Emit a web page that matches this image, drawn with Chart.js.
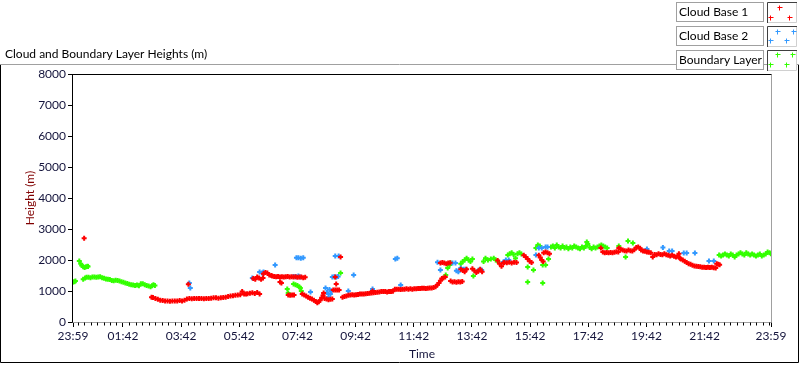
<!DOCTYPE html>
<html>
<head>
<meta charset="utf-8">
<script src="https://cdn.jsdelivr.net/npm/chart.js@4.4.1/dist/chart.umd.min.js"></script>
<style>
  html, body { margin: 0; padding: 0; background: #fff; }
  #wrap { position: relative; width: 800px; height: 365px; }
</style>
</head>
<body>
<div id="wrap"><canvas id="chart" width="800" height="365"></canvas></div>
<script>
// time is minutes after 23:59, height in metres
const xTickValues = [0, 103, 223, 343, 463, 583, 703, 823, 943, 1063, 1183, 1303, 1440];
const xTickLabels = ['23:59', '01:42', '03:42', '05:42', '07:42', '09:42', '11:42', '13:42', '15:42', '17:42', '19:42', '21:42', '23:59'];
const seriesNames = ['Cloud Base 1', 'Cloud Base 2', 'Boundary Layer'];
const seriesColors = ['#ff0000', '#3399ff', '#33ff00'];

const cloudBase1 = [
  [23,2700],
  [162,800],[165,790],[170,760],[175,730],[180,700],[185,690],[190,680],[195,680],[200,670],[205,680],
  [210,680],[215,680],[220,690],[225,680],[230,700],[235,740],[238,1220],[240,760],[245,750],[250,760],
  [255,760],[260,760],[265,760],[270,750],[275,760],[280,760],[285,770],[290,780],[295,780],[300,770],
  [305,780],[310,790],[315,800],[320,820],[325,840],[330,850],[335,860],[340,870],[345,880],[349,980],
  [353,900],[357,900],[360,910],[365,930],[370,940],[375,920],[380,950],[385,900],
  [372,1400],[376,1380],[380,1450],[384,1420],[388,1380],[392,1420],
  [393,1560],[397,1600],[401,1580],[405,1520],[409,1500],
  [411,1480],[415,1470],[419,1460],[423,1470],[427,1450],[431,1460],[435,1450],[439,1460],
  [443,1470],[447,1450],[451,1460],[455,1450],[459,1460],[463,1440],[467,1450],[471,1450],[475,1430],[479,1440],
  [427,1290],[430,1260],
  [444,870],[448,860],[452,870],[456,870],
  [473,900],[477,870],[481,840],[485,800],[489,770],[493,740],[497,700],[501,660],[504,620],[507,650],
  [510,700],[513,780],[516,860],[517,935],
  [519,760],[523,740],[527,720],[531,730],[535,740],
  [537,1030],[541,1030],[545,1030],[549,1030],
  [541,1450],[543,1226],[552,2100],
  [556,800],[560,820],[564,840],[568,860],[572,870],[576,880],[580,870],[584,880],[588,890],[592,900],
  [596,900],[600,900],[604,910],[608,920],[612,930],[616,935],[618,1000],[620,940],[624,950],[628,960],
  [632,970],[636,980],[640,980],[644,980],[648,970],[652,980],[656,980],[660,990],[664,1060],[668,1060],
  [672,1060],[676,1050],[680,1060],[684,1060],[688,1070],[692,1060],[696,1070],[700,1060],[704,1070],
  [708,1070],[712,1080],[716,1080],[720,1090],[724,1090],[728,1080],[732,1090],[736,1100],[740,1100],
  [744,1110],[748,1140],[752,1200],[755,1260],[758,1330],[761,1400],[764,1420],[768,1450],
  [758,1900],[762,1920],[766,1900],[770,1880],[774,1900],[778,1910],
  [779,1320],[783,1290],[787,1300],[791,1280],[795,1300],[799,1290],[803,1310],
  [800,1700],[804,1660],[808,1620],[812,1700],
  [824,1720],[828,1660],[832,1600],[836,1640],[840,1700],[844,1620],
  [876,1980],[880,1880],[884,1800],[888,1900],
  [890,1920],[895,1910],[900,1930],[905,1900],[910,1930],[915,1920],
  [930,2150],[934,2100],[938,2030],[942,1960],[946,1920],
  [961,2150],[964,2080],[967,2000],[970,1950],
  [971,2230],[975,2260],[979,2230],[983,2200],
  [1089,2390],[1093,2260],[1097,2230],[1101,2240],[1105,2230],[1109,2240],[1113,2230],[1117,2250],[1121,2270],[1125,2260],
  [1126,2390],[1130,2350],[1134,2320],[1138,2300],[1142,2290],[1146,2320],[1150,2300],[1154,2290],[1158,2330],
  [1162,2400],[1166,2420],[1170,2380],
  [1172,2320],[1176,2290],[1180,2280],[1184,2260],[1188,2250],[1192,2230],
  [1196,2100],[1200,2180],[1204,2170],[1208,2200],[1212,2180],[1216,2170],[1220,2200],[1224,2170],
  [1228,2150],[1232,2130],[1236,2150],[1240,2120],[1244,2100],[1248,2130],[1252,2060],
  [1250,2200],[1254,2030],[1258,2000],[1262,1960],[1266,1920],[1270,1880],[1274,1860],[1278,1830],[1282,1810],[1286,1800],
  [1290,1790],[1294,1780],[1298,1770],[1302,1770],[1306,1760],[1310,1770],[1314,1760],[1318,1770],[1322,1750],[1326,1740],
  [1328,1880],[1331,1860],[1334,1850]
];

const cloudBase2 = [
  [240,1260],[242,1100],
  [370,1420],[385,1610],[390,1580],[393,1610],
  [417,1840],
  [455,1470],[460,1460],[465,1480],[469,1450],
  [461,2070],[465,2070],[470,2060],[475,2070],
  [490,970],
  [521,1100],[524,950],[527,800],[529,1050],[531,900],[533,1000],
  [541,2130],[548,2130],
  [535,1450],[539,1460],[543,1450],[547,1470],
  [568,1000],[579,1516],
  [618,1065],
  [665,2030],[669,2060],
  [676,1190],
  [752,1930],[758,1680],
  [783,1900],[789,1900],[791,1650],[795,1620],
  [800,1740],[806,1700],[810,1700],
  [837,1680],[843,1680],
  [888,1935],[893,2000],[899,2000],
  [955,2160],[961,2390],[967,2390],[975,2420],[979,2420],
  [1184,2355],[1217,2400],[1230,2290],[1236,2290],[1260,2226],[1266,2226],[1283,2226],[1312,1968],[1322,1968]
];

const boundaryLayer = [
  [0,1290],[3,1300],[5,1320],
  [13,1970],[16,1880],[18,1820],[21,1780],[24,1760],[27,1780],[30,1800],[31,1790],
  [21,1380],[25,1420],[28,1440],[32,1440],[36,1430],[40,1450],[44,1450],[48,1440],[52,1450],[56,1460],
  [60,1430],[64,1410],[68,1390],[72,1380],[76,1370],[80,1340],[84,1330],[88,1350],[92,1340],[96,1320],
  [100,1300],[104,1280],[108,1260],[112,1240],[116,1220],[120,1200],[124,1190],[128,1180],[132,1190],
  [136,1170],[140,1230],[144,1230],[148,1200],[152,1180],[156,1160],[160,1140],[163,1170],[166,1200],[169,1180],
  [442,1065],[444,935],[455,1226],[459,1200],[463,1180],[467,1130],[469,1100],[471,1000],
  [552,1580],
  [769,1520],[773,1740],[777,1840],[779,1900],
  [800,1880],[804,1950],[808,2000],[812,2060],[816,2000],[820,1950],[824,2030],[826,1480],
  [847,1950],[851,2060],[856,2000],[862,2030],[868,2060],[872,2000],[876,1960],
  [897,2160],[901,2200],[905,2230],[909,2180],[913,2060],[917,2200],[921,2230],[925,2190],
  [938,1290],[938,1774],[950,1677],
  [955,2390],[959,2480],[963,2450],[969,1258],[969,1840],[975,1840],[981,2030],
  [986,2420],[990,2450],[994,2390],[998,2480],[1002,2420],[1006,2390],[1010,2450],[1014,2390],[1018,2420],
  [1022,2360],[1026,2420],[1030,2390],[1034,2450],[1038,2420],[1042,2390],[1046,2360],[1050,2420],[1054,2390],
  [1058,2450],[1060,2580],[1062,2520],[1066,2400],[1070,2360],[1074,2420],[1078,2390],[1082,2420],[1086,2450],
  [1090,2480],[1094,2450],[1098,2420],[1102,2390],
  [1126,2450],[1140,2100],[1145,2610],[1155,2550],
  [1333,2160],[1337,2130],[1341,2160],[1345,2190],[1349,2160],[1353,2130],[1357,2190],[1361,2160],[1365,2100],
  [1369,2160],[1373,2190],[1377,2230],[1381,2190],[1385,2160],[1389,2230],[1393,2190],[1397,2160],[1401,2190],
  [1405,2160],[1409,2130],[1413,2160],[1417,2190],[1421,2130],[1425,2160],[1429,2190],[1433,2260],[1437,2230],[1440,2200]
];

const FONT = "'Segoe UI', Lato, 'Noto Sans', sans-serif";

function toPoints(arr) {
  return arr.map(p => ({ x: p[0], y: p[1] }));
}

// frame, title, minor ticks and the LabVIEW style legend
const decorPlugin = {
  id: 'decor',
  afterDraw(chart) {
    const ctx = chart.ctx;
    const a = chart.chartArea;
    ctx.save();

    ctx.font = '12px ' + FONT;
    ctx.fillStyle = '#000';
    ctx.textBaseline = 'middle';
    ctx.fillText('Cloud and Boundary Layer Heights (m)', 5, 54);

    // outer frame
    ctx.lineWidth = 1;
    ctx.strokeStyle = '#a0a0a0';
    ctx.beginPath();
    ctx.moveTo(0, 64.5); ctx.lineTo(799, 64.5);
    ctx.stroke();
    ctx.strokeStyle = '#000';
    ctx.beginPath();
    ctx.moveTo(0.5, 65); ctx.lineTo(0.5, 362.5);
    ctx.lineTo(798.5, 362.5); ctx.lineTo(798.5, 65);
    ctx.stroke();

    // plot frame
    const L = Math.round(a.left) - 0.5, T = Math.round(a.top) + 0.5;
    const R = Math.round(a.right) + 0.5, B = Math.round(a.bottom) + 0.5;
    ctx.strokeStyle = '#a0a0a0';
    ctx.beginPath();
    ctx.moveTo(L, B); ctx.lineTo(R, B); ctx.lineTo(R, T);
    ctx.stroke();
    ctx.strokeStyle = '#000';
    ctx.beginPath();
    ctx.moveTo(L, B); ctx.lineTo(L, T); ctx.lineTo(R, T);
    ctx.stroke();

    // minor x ticks, 9 per 2 hours
    const xs = chart.scales.x;
    ctx.strokeStyle = '#000';
    ctx.beginPath();
    const step = 120 / 9;
    for (let v = 103 - step * 7; v < 1440; v += step) {
      if (xTickValues.some(t => Math.abs(t - v) < 1)) continue;
      const px = Math.round(xs.getPixelForValue(v)) + 0.5;
      ctx.moveTo(px, B); ctx.lineTo(px, B + 3);
    }
    ctx.stroke();

    // legend
    const crossSets = [
      [[12, 5], [3, 15], [22, 15]],
      [[10, 5], [26, 5], [3, 14], [19, 14]],
      [[10, 4], [25, 4], [3, 14], [19, 14]]
    ];
    seriesNames.forEach((name, i) => {
      const y0 = 2 + i * 24;
      ctx.fillStyle = '#fff';
      ctx.fillRect(676, y0, 88, 20);
      ctx.strokeStyle = '#a0a0a0';
      ctx.strokeRect(676.5, y0 + 0.5, 87, 19);
      ctx.fillStyle = '#000';
      ctx.font = '12px ' + FONT;
      ctx.fillText(name, 679, y0 + 10.5);

      const bx = 767, by = y0;
      ctx.fillStyle = '#fff';
      ctx.fillRect(bx, by, 30, 21);
      ctx.strokeStyle = '#d0d0d0';
      ctx.beginPath();
      ctx.moveTo(bx + 29.5, by); ctx.lineTo(bx + 29.5, by + 20.5); ctx.lineTo(bx, by + 20.5);
      ctx.stroke();
      ctx.strokeStyle = '#404040';
      ctx.beginPath();
      ctx.moveTo(bx + 0.5, by + 21); ctx.lineTo(bx + 0.5, by + 0.5); ctx.lineTo(bx + 30, by + 0.5);
      ctx.stroke();

      ctx.strokeStyle = seriesColors[i];
      ctx.beginPath();
      crossSets[i].forEach(c => {
        const cx = bx + c[0] + 0.5, cy = by + c[1] + 0.5;
        ctx.moveTo(cx - 2, cy); ctx.lineTo(cx + 3, cy);
        ctx.moveTo(cx, cy - 2); ctx.lineTo(cx, cy + 3);
      });
      ctx.stroke();
    });

    ctx.restore();
  }
};

function makeDataset(i, arr) {
  return {
    label: seriesNames[i],
    data: toPoints(arr),
    showLine: false,
    pointStyle: 'cross',
    pointRadius: 2.5,
    pointBorderWidth: 2,
    pointBorderColor: seriesColors[i],
    pointBackgroundColor: seriesColors[i],
    order: i
  };
}

new Chart(document.getElementById('chart'), {
  type: 'scatter',
  data: {
    datasets: [
      makeDataset(0, cloudBase1),
      makeDataset(1, cloudBase2),
      makeDataset(2, boundaryLayer)
    ]
  },
  options: {
    responsive: false,
    animation: false,
    events: [],
    layout: { padding: { left: 0, top: 74, right: 29, bottom: 0 } },
    plugins: {
      legend: { display: false },
      tooltip: { enabled: false }
    },
    scales: {
      x: {
        type: 'linear',
        min: 0,
        max: 1440,
        afterBuildTicks: scale => {
          scale.ticks = xTickValues.map(v => ({ value: v }));
        },
        afterFit: scale => { scale.height = 43; },
        border: { display: false },
        grid: { drawOnChartArea: false, drawTicks: true, tickLength: 5, tickColor: '#000' },
        ticks: {
          autoSkip: false,
          maxRotation: 0,
          padding: 2,
          color: '#14143c',
          font: { family: FONT, size: 12 },
          callback: (value, index) => xTickLabels[index]
        },
        title: {
          display: true,
          text: 'Time',
          color: '#14143c',
          font: { family: FONT, size: 12 },
          padding: { top: 0, bottom: 4 }
        }
      },
      y: {
        min: 0,
        max: 8000,
        afterFit: scale => { scale.width = 73; },
        border: { display: false },
        grid: { drawOnChartArea: false, drawTicks: true, tickLength: 5, tickColor: '#000' },
        ticks: {
          stepSize: 1000,
          padding: 2,
          color: '#14143c',
          font: { family: FONT, size: 12 },
          callback: value => String(value)
        },
        title: {
          display: true,
          text: 'Height (m)',
          color: '#800000',
          font: { family: FONT, size: 12 },
          padding: { top: 23, bottom: 0 }
        }
      }
    }
  },
  plugins: [decorPlugin]
});
</script>
</body>
</html>
